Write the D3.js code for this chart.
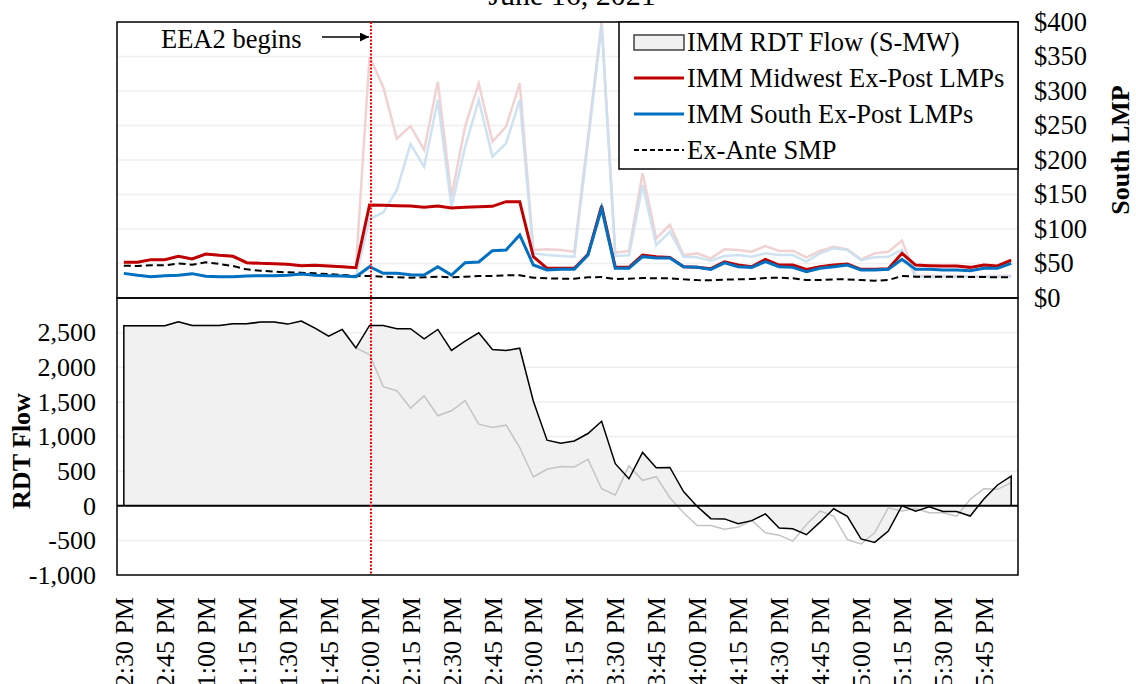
<!DOCTYPE html>
<html>
<head>
<meta charset="utf-8">
<script src="https://cdn.jsdelivr.net/npm/d3@7"></script>
<style>
  body { margin: 0; background: #fff; }
  svg text { font-family: "Liberation Serif", "Times New Roman", serif; }
</style>
</head>
<body>
<div class="chart"></div>
<script>
// 5-minute intervals, 12:30 PM to 5:55 PM
var times = ["12:30 PM","12:35 PM","12:40 PM","12:45 PM","12:50 PM","12:55 PM",
  "1:00 PM","1:05 PM","1:10 PM","1:15 PM","1:20 PM","1:25 PM",
  "1:30 PM","1:35 PM","1:40 PM","1:45 PM","1:50 PM","1:55 PM",
  "2:00 PM","2:05 PM","2:10 PM","2:15 PM","2:20 PM","2:25 PM",
  "2:30 PM","2:35 PM","2:40 PM","2:45 PM","2:50 PM","2:55 PM",
  "3:00 PM","3:05 PM","3:10 PM","3:15 PM","3:20 PM","3:25 PM",
  "3:30 PM","3:35 PM","3:40 PM","3:45 PM","3:50 PM","3:55 PM",
  "4:00 PM","4:05 PM","4:10 PM","4:15 PM","4:20 PM","4:25 PM",
  "4:30 PM","4:35 PM","4:40 PM","4:45 PM","4:50 PM","4:55 PM",
  "5:00 PM","5:05 PM","5:10 PM","5:15 PM","5:20 PM","5:25 PM",
  "5:30 PM","5:35 PM","5:40 PM","5:45 PM","5:50 PM","5:55 PM"];

var tickLabels = ["12:30 PM","12:45 PM","1:00 PM","1:15 PM","1:30 PM","1:45 PM",
  "2:00 PM","2:15 PM","2:30 PM","2:45 PM","3:00 PM","3:15 PM","3:30 PM","3:45 PM",
  "4:00 PM","4:15 PM","4:30 PM","4:45 PM","5:00 PM","5:15 PM","5:30 PM","5:45 PM"];

var eeaStart = "2:00 PM";

// IMM Midwest Ex-Post LMPs ($)
var midwestLmp = [51.7,51.7,55.6,55.6,60.4,56.5,63.8,61.8,60.4,51.2,50.2,49.8,
  48.8,46.9,47.3,46.4,45.4,43.9,134.8,134.3,133.8,133.3,131.5,133.3,
  130.5,131.4,132.4,132.9,139.6,139.6,59.9,43,43,43,63.3,133.3,
  44.4,44.4,62.3,59.9,58.9,45.4,44.4,42.5,52.5,47.8,45.4,56,
  47.8,47.8,41.5,45.4,47.8,49.3,41.5,41.5,42.5,64.7,47.8,46.9,
  46.4,46.4,44.4,47.8,46.4,55];

// IMM South Ex-Post LMPs ($)
var southLmp = [35.7,32.9,30.9,32.4,32.9,35.3,31.4,30.9,30.9,31.9,32.4,32.4,
  32.9,34.8,32.9,32.4,31.9,30.9,45.4,35.7,35.7,33.8,33.3,45.4,
  33.3,51.2,52.2,68.6,69.6,91.3,47.8,40.6,41.5,41.5,62.3,130,
  43,43,59.9,58,58,45.4,44.4,41.5,51,45.4,44.4,52.7,
  45.4,44.4,38.2,43,45.4,47.8,40.6,40.6,41.5,56,41.5,41.5,
  40.6,40.6,39.6,43,43,50.2];

// Ex-Ante SMP ($)
var exAnteSmp = [46.9,46.4,47.3,47.3,50.2,48.3,51.7,49.3,46.4,41.5,39.6,38.2,
  37.2,36.7,35.7,34.8,33.3,31.9,31.9,30.9,30,29.5,30,30.9,
  30,30.9,31.9,31.9,32.9,32.9,29.5,28.5,28,28,30,30.4,
  27.5,28,29,28.5,28.5,27,26,25.6,26.6,27,27.5,29,
  29.5,28.5,26,26,27,27,26,25.1,26,31.9,30.9,30.9,
  30.9,30.9,30.4,30.4,30,30];

// faint Midwest LMP series (unlabelled)
var midwestFaint = [51.7,51.7,55.6,55.6,60.4,56.5,63.8,61.8,60.4,51.2,50.2,49.8,
  48.8,46.9,47.3,46.4,45.4,43.9,349.7,306,231,249,214.5,313.5,
  146.9,248.3,311,226.6,248.3,311,69.6,70.5,69.6,67.1,233,400,
  65.7,68.1,180.7,86.5,105.8,61.8,64.7,57.5,70.5,69.6,67.1,75.4,
  68.1,68.6,58.9,68.1,74.4,70.5,56,64.7,67.1,83.1,31.9,31.9,
  31.9,31.9,31.4,31.4,31.9,32.4];

// faint South LMP series (unlabelled)
var southFaint = [35.7,32.9,30.9,32.4,32.9,35.3,31.4,30.9,30.9,31.9,32.4,32.4,
  32.9,34.8,32.9,32.4,31.9,30.9,114.5,123.7,156.5,223,190,287,
  132,219,287,205,224,287,64.7,62.3,60.9,59.9,225,395,
  60.9,61.8,163.8,76.8,96,59.9,58.9,54.1,60.9,62.3,59.9,64.7,
  62.3,62.3,52.7,64.7,72,69.6,55,58.9,59.9,69.6,30.9,30.9,
  30.9,30.9,30.9,30.9,30.9,30.9];

// IMM RDT Flow (S-MW), MW
var rdtFlow = [2600,2600,2600,2600,2657,2604,2604,2604,2628,2628,2652,2652,
  2623,2667,2565,2449,2546,2280,2604,2604,2556,2556,2411,2546,
  2242,2377,2498,2256,2242,2275,1510,947,903,935,1043,1220,
  607,390,770,550,553,205,-10,-186,-190,-261,-215,-118,
  -321,-333,-418,-237,-44,-152,-478,-529,-365,0,-80,-15,
  -82,-82,-148,96,300,428];

// second RDT flow trace (grey, unlabelled)
var rdtFlowAlt = [2600,2600,2600,2600,2657,2604,2604,2604,2628,2628,2652,2652,
  2623,2667,2565,2449,2546,2280,2184,1720,1662,1411,1587,1300,
  1372,1517,1179,1130,1164,841,415,527,565,560,672,246,
  155,575,367,420,116,-101,-285,-285,-340,-309,-213,-391,
  -425,-512,-271,-77,-150,-488,-551,-391,-29,-77,-39,-101,
  -101,-150,92,246,237,333];

var lmpTicks = [0,50,100,150,200,250,300,350,400];
var flowTicks = [-1000,-500,0,500,1000,1500,2000,2500];

var svgWidth = 1136, svgHeight = 684;
var left = 117, right = 1018;
var topY = 22, midY = 298, bottomY = 575;

var svg = d3.select(".chart").append("svg")
  .attr("width", svgWidth)
  .attr("height", svgHeight);

var xScale = d3.scalePoint()
  .domain(times)
  .range([left, right])
  .padding(0.5);

var yLmp = d3.scaleLinear().domain([0, 400]).range([midY, topY]);
var yFlow = d3.scaleLinear().domain([-1000, 3000]).range([bottomY, midY]);

// title (mostly cut off at top)
svg.append("text")
  .attr("x", 572).attr("y", 5)
  .attr("text-anchor", "middle")
  .style("font-size", "30px")
  .text("June 16, 2021");

// gridlines
svg.append("g").selectAll("line")
  .data(lmpTicks.filter(d => d > 0 && d < 400))
  .enter().append("line")
  .attr("x1", left).attr("x2", right)
  .attr("y1", d => yLmp(d)).attr("y2", d => yLmp(d))
  .attr("stroke", "#efefef").attr("stroke-width", 1.5);

svg.append("g").selectAll("line")
  .data(flowTicks.filter(d => d !== 0 && d > -1000))
  .enter().append("line")
  .attr("x1", left).attr("x2", right)
  .attr("y1", d => yFlow(d)).attr("y2", d => yFlow(d))
  .attr("stroke", "#efefef").attr("stroke-width", 1.5);

// bottom panel: flow area + lines
var flowArea = d3.area()
  .x((d, i) => xScale(times[i]))
  .y0(yFlow(0))
  .y1(d => yFlow(d));

var flowPts = rdtFlow.map((d, i) => [xScale(times[i]), yFlow(d)]);
var outline = [[flowPts[0][0], yFlow(0)]].concat(flowPts, [[flowPts[flowPts.length - 1][0], yFlow(0)]]);

svg.append("path")
  .datum(rdtFlow)
  .attr("d", flowArea)
  .attr("fill", "#f1f1f1");

var flowLine = d3.line()
  .x((d, i) => xScale(times[i]))
  .y(d => yFlow(d));

svg.append("path")
  .datum(rdtFlowAlt)
  .attr("d", flowLine)
  .attr("fill", "none")
  .attr("stroke", "#c4c4c4")
  .attr("stroke-width", 1.5);

svg.append("path")
  .attr("d", d3.line()(outline))
  .attr("fill", "none")
  .attr("stroke", "#000")
  .attr("stroke-width", 1.5)
  .attr("stroke-linejoin", "miter");

// zero line
svg.append("line")
  .attr("x1", left).attr("x2", right)
  .attr("y1", yFlow(0)).attr("y2", yFlow(0))
  .attr("stroke", "#000").attr("stroke-width", 2);

// top panel lines
var lmpLine = d3.line()
  .x((d, i) => xScale(times[i]))
  .y(d => yLmp(d));

svg.append("clipPath").attr("id", "topclip")
  .append("rect")
  .attr("x", left).attr("y", topY - 2)
  .attr("width", right - left).attr("height", midY - topY + 2);

var topG = svg.append("g").attr("clip-path", "url(#topclip)");

topG.append("path").datum(midwestFaint).attr("d", lmpLine)
  .attr("fill", "none").attr("stroke", "#f0d2d2").attr("stroke-width", 2.5);
topG.append("path").datum(southFaint).attr("d", lmpLine)
  .attr("fill", "none").attr("stroke", "#c9dff1").attr("stroke-width", 2.5)
  .attr("opacity", 0.9);
topG.append("path").datum(exAnteSmp).attr("d", lmpLine)
  .attr("fill", "none").attr("stroke", "#000").attr("stroke-width", 2)
  .attr("stroke-dasharray", "7,4");
topG.append("path").datum(midwestLmp).attr("d", lmpLine)
  .attr("fill", "none").attr("stroke", "#c00000").attr("stroke-width", 3);
topG.append("path").datum(southLmp).attr("d", lmpLine)
  .attr("fill", "none").attr("stroke", "#0070c0").attr("stroke-width", 3);

// panel borders
svg.append("rect")
  .attr("x", left).attr("y", topY)
  .attr("width", right - left).attr("height", midY - topY)
  .attr("fill", "none").attr("stroke", "#000").attr("stroke-width", 1.5);
svg.append("rect")
  .attr("x", left).attr("y", midY)
  .attr("width", right - left).attr("height", bottomY - midY)
  .attr("fill", "none").attr("stroke", "#000").attr("stroke-width", 1.5);

// EEA2 marker (red dotted)
var eeaX = Math.round(xScale(eeaStart)) + 1;
svg.append("line")
  .attr("x1", eeaX).attr("x2", eeaX)
  .attr("y1", topY).attr("y2", bottomY)
  .attr("stroke", "#ff0000").attr("stroke-width", 2)
  .attr("stroke-dasharray", "2,1.5");

svg.append("defs").append("marker")
  .attr("id", "arrow")
  .attr("viewBox", "0 0 10 10")
  .attr("refX", 10).attr("refY", 5)
  .attr("markerWidth", 10).attr("markerHeight", 9)
  .attr("markerUnits", "userSpaceOnUse")
  .attr("orient", "auto")
  .append("path").attr("d", "M0,0L10,5L0,10Z").attr("fill", "#000");

svg.append("line")
  .attr("x1", 322).attr("x2", eeaX - 2)
  .attr("y1", 37).attr("y2", 37)
  .attr("stroke", "#000").attr("stroke-width", 1.5)
  .attr("marker-end", "url(#arrow)");

svg.append("text")
  .attr("x", 161).attr("y", 48)
  .style("font-size", "26.5px")
  .text("EEA2 begins");

// axes
var rightAxis = d3.axisRight(yLmp)
  .tickValues(lmpTicks)
  .tickSize(0).tickPadding(16)
  .tickFormat(d => "$" + d);
var ra = svg.append("g").attr("transform", `translate(${right},0)`).call(rightAxis);
ra.select(".domain").remove();
ra.selectAll("text").style("font-size", "26.5px").attr("fill", "#000");

var leftAxis = d3.axisLeft(yFlow)
  .tickValues(flowTicks)
  .tickSize(0).tickPadding(21)
  .tickFormat(d => d3.format(",")(d).replace("\u2212", "-"));
var la = svg.append("g").attr("transform", `translate(${left},0)`).call(leftAxis);
la.select(".domain").remove();
la.selectAll("text").style("font-size", "26px").attr("fill", "#000");

var bottomAxis = d3.axisBottom(xScale)
  .tickValues(tickLabels)
  .tickSize(0).tickPadding(0);
var ba = svg.append("g").attr("transform", `translate(0,${bottomY})`).call(bottomAxis);
ba.select(".domain").remove();
ba.selectAll("text")
  .style("font-size", "26px")
  .attr("fill", "#000")
  .attr("text-anchor", "end")
  .attr("transform", "rotate(-90)")
  .attr("x", -22).attr("y", 0).attr("dy", "0.33em");

// axis titles
svg.append("text")
  .attr("transform", "translate(30,451) rotate(-90)")
  .attr("text-anchor", "middle")
  .style("font-size", "26px").style("font-weight", "bold")
  .text("RDT Flow");

svg.append("text")
  .attr("transform", "translate(1129,150) rotate(-90)")
  .attr("text-anchor", "middle")
  .style("font-size", "26px").style("font-weight", "bold")
  .text("South LMP");

// legend
var legendItems = [
  {name: "IMM RDT Flow (S-MW)", type: "area"},
  {name: "IMM Midwest Ex-Post LMPs", type: "line", color: "#c00000", dash: null},
  {name: "IMM South Ex-Post LMPs", type: "line", color: "#0070c0", dash: null},
  {name: "Ex-Ante SMP", type: "line", color: "#000", dash: "5,3"}
];

var lg = svg.append("g");
lg.append("rect")
  .attr("x", 619).attr("y", topY)
  .attr("width", right - 619).attr("height", 147)
  .attr("fill", "#fff").attr("stroke", "#000").attr("stroke-width", 1.5);

var rowY = [42, 78, 114, 150];
legendItems.forEach(function(item, i) {
  var g = lg.append("g").attr("transform", `translate(0,${rowY[i]})`);
  if (item.type === "area") {
    g.append("rect")
      .attr("x", 634).attr("y", -7)
      .attr("width", 50).attr("height", 15)
      .attr("fill", "#f1f1f1").attr("stroke", "#404040").attr("stroke-width", 1.5);
  } else {
    g.append("line")
      .attr("x1", 634).attr("x2", 684)
      .attr("y1", 0).attr("y2", 0)
      .attr("stroke", item.color)
      .attr("stroke-width", item.dash ? 2 : 3)
      .attr("stroke-dasharray", item.dash);
  }
  g.append("text")
    .attr("x", 687).attr("y", 0).attr("dy", "0.33em")
    .style("font-size", "26.5px")
    .text(item.name);
});
</script>
</body>
</html>
